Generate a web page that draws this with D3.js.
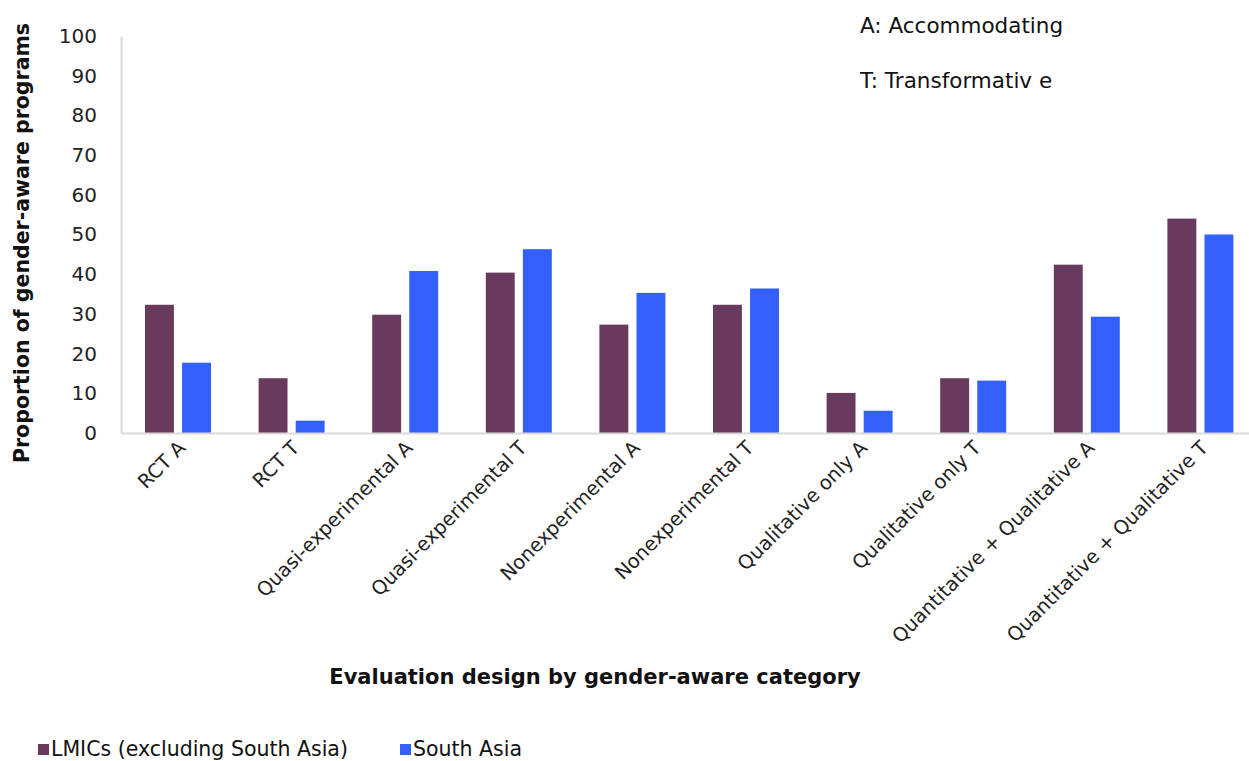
<!DOCTYPE html>
<html><head><meta charset="utf-8">
<script src="https://cdn.jsdelivr.net/npm/d3@7"></script>
<style>
body{margin:0;background:#fff;overflow:hidden}
text{font-family:"Century Gothic","DejaVu Sans",sans-serif}
</style></head><body>
<svg id="c" width="1249" height="761"></svg>
<script>
const categories = ["RCT A","RCT T","Quasi-experimental A","Quasi-experimental T","Nonexperimental A","Nonexperimental T","Qualitative only A","Qualitative only T","Quantitative + Qualitative A","Quantitative + Qualitative T"];
const seriesNames = ["LMICs (excluding South Asia)","South Asia"];
const lmics = [32.3,13.8,29.8,40.4,27.3,32.3,10.1,13.8,42.4,54.0];
const southAsia = [17.7,3.1,40.8,46.3,35.3,36.4,5.6,13.2,29.3,50.0];
const yTicks = [0,10,20,30,40,50,60,70,80,90,100];
const colors = ["#673a5e","#335ffb"];
const notes = ["A: Accommodating","T: Transformativ e"];

const FONT = '"Century Gothic","DejaVu Sans",sans-serif';
const svg = d3.select("#c");
const x0 = d3.scaleBand().domain(categories).range([121,1257]).paddingInner(0).paddingOuter(0);
const y = d3.scaleLinear().domain([0,100]).range([433,36]);
const x1 = d3.scaleBand().domain([0,1]).range([24,90]).paddingInner(0.22);

const data = categories.map((c,i)=>({c, v:[lmics[i],southAsia[i]]}));

// bars
svg.append("g").selectAll("g.cat").data(data).join("g").attr("class","cat")
 .attr("transform",d=>`translate(${x0(d.c)},0)`)
 .selectAll("rect").data(d=>d.v.map((v,k)=>({v,k}))).join("rect")
 .attr("x",d=>x1(d.k)).attr("width",x1.bandwidth())
 .attr("y",d=>y(d.v)).attr("height",d=>y(0)-y(d.v))
 .attr("fill",d=>colors[d.k]);

// y axis
const ya = svg.append("g").attr("transform","translate(121,0)")
 .call(d3.axisLeft(y).tickValues(yTicks).tickSize(0).tickPadding(24));
ya.select(".domain").attr("stroke","#d9d9d9").attr("stroke-width",2);
ya.selectAll("text").attr("font-size",20).attr("fill","#222").style("font-family",FONT);

// x axis
const xa = svg.append("g").attr("transform","translate(0,433)")
 .call(d3.axisBottom(x0).tickSize(0).tickPadding(0));
xa.select(".domain").attr("stroke","#d9d9d9").attr("stroke-width",2);
xa.selectAll("text").attr("font-size",19.5).attr("fill","#222")
 .style("font-family",FONT)
 .attr("text-anchor","end").attr("dy",0)
 .attr("transform","translate(9,16) rotate(-45)");

// titles
svg.append("text").attr("x",595).attr("y",684).attr("text-anchor","middle")
 .attr("font-size",21).attr("font-weight","bold").attr("fill","#111")
 .text("Evaluation design by gender-aware category");
svg.append("text").attr("transform","translate(29,243) rotate(-90)").attr("text-anchor","middle")
 .attr("font-size",20.5).attr("font-weight","bold").attr("fill","#111")
 .text("Proportion of gender-aware programs");

// notes
svg.selectAll("text.note").data(notes).join("text").attr("class","note")
 .attr("x",860).attr("y",(d,i)=>33+i*55).attr("font-size",21.5).attr("fill","#111").text(d=>d);

// legend
const lx = [38,400];
const lg = svg.selectAll("g.leg").data(seriesNames).join("g").attr("class","leg")
 .attr("transform",(d,i)=>`translate(${lx[i]},0)`);
lg.append("rect").attr("x",0).attr("y",744).attr("width",11).attr("height",11).attr("fill",(d,i)=>colors[i]);
lg.append("text").attr("x",13).attr("y",756).attr("font-size",20.5).attr("fill","#111").text(d=>d);
</script></body></html>
